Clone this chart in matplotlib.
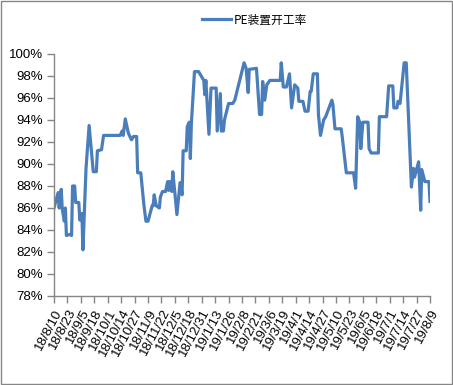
import datetime as dt
import matplotlib
matplotlib.use("Agg")
import matplotlib.pyplot as plt
import matplotlib.dates as mdates
from matplotlib.patches import Rectangle

# 数据
dates = ["2018-08-10", "2018-08-14", "2018-08-15", "2018-08-17", "2018-08-18",
         "2018-08-20", "2018-08-21", "2018-08-22", "2018-08-25", "2018-08-27",
         "2018-08-28", "2018-08-30", "2018-08-31", "2018-09-03", "2018-09-04",
         "2018-09-06", "2018-09-07", "2018-09-10", "2018-09-13", "2018-09-17",
         "2018-09-20", "2018-09-21", "2018-09-25", "2018-09-27", "2018-10-13",
         "2018-10-15", "2018-10-16", "2018-10-18", "2018-10-21", "2018-10-24",
         "2018-10-26", "2018-10-29", "2018-10-30", "2018-11-02", "2018-11-05",
         "2018-11-07", "2018-11-09", "2018-11-13", "2018-11-14", "2018-11-15",
         "2018-11-17", "2018-11-20", "2018-11-21", "2018-11-23", "2018-11-26",
         "2018-11-28", "2018-11-29", "2018-11-30", "2018-12-02", "2018-12-03",
         "2018-12-07", "2018-12-08", "2018-12-10", "2018-12-12", "2018-12-13",
         "2018-12-16", "2018-12-17", "2018-12-19", "2018-12-20", "2018-12-21",
         "2018-12-24", "2018-12-28", "2019-01-02", "2019-01-03", "2019-01-04",
         "2019-01-07", "2019-01-09", "2019-01-14", "2019-01-15", "2019-01-18",
         "2019-01-19", "2019-01-21", "2019-01-22", "2019-01-26", "2019-01-30",
         "2019-02-01", "2019-02-10", "2019-02-12", "2019-02-14", "2019-02-15",
         "2019-02-22", "2019-02-25", "2019-02-27", "2019-02-28", "2019-03-02",
         "2019-03-04", "2019-03-07", "2019-03-17", "2019-03-18", "2019-03-20",
         "2019-03-23", "2019-03-26", "2019-03-28", "2019-03-31", "2019-04-03",
         "2019-04-04", "2019-04-08", "2019-04-10", "2019-04-13", "2019-04-15",
         "2019-04-16", "2019-04-18", "2019-04-22", "2019-04-23", "2019-04-25",
         "2019-04-28", "2019-04-30", "2019-05-06", "2019-05-07", "2019-05-09",
         "2019-05-15", "2019-05-16", "2019-05-20", "2019-05-27", "2019-05-29",
         "2019-05-31", "2019-06-02", "2019-06-03", "2019-06-05", "2019-06-10",
         "2019-06-11", "2019-06-13", "2019-06-20", "2019-06-21", "2019-06-28",
         "2019-06-30", "2019-07-04", "2019-07-05", "2019-07-08", "2019-07-09",
         "2019-07-11", "2019-07-15", "2019-07-17", "2019-07-22", "2019-07-24",
         "2019-07-25", "2019-07-29", "2019-07-31", "2019-08-01", "2019-08-04",
         "2019-08-08", "2019-08-09"]
rates = [86.0, 87.4, 86.0, 87.7, 85.9,
         84.8, 86.0, 83.5, 83.6, 83.5,
         88.0, 88.0, 86.5, 86.5, 84.9,
         85.5, 82.2, 89.6, 93.5, 89.3,
         89.3, 91.2, 91.3, 92.6, 92.6,
         93.0, 92.6, 94.1, 92.8, 92.2,
         92.5, 92.5, 89.2, 89.2, 86.3,
         84.8, 84.8, 86.2, 86.2, 87.2,
         86.2, 86.0, 87.0, 87.5, 87.5,
         88.4, 87.6, 88.4, 87.5, 89.3,
         85.4, 86.4, 88.3, 87.2, 91.2,
         91.2, 93.4, 93.8, 90.5, 93.7,
         98.4, 98.4, 97.6, 96.3, 97.6,
         92.7, 96.9, 96.9, 93.0, 96.4,
         93.0, 93.0, 94.0, 95.5, 95.5,
         95.8, 99.2, 98.7, 96.5, 98.6,
         98.7, 94.5, 94.5, 97.5, 95.8,
         97.2, 97.6, 97.6, 99.2, 97.0,
         97.0, 98.2, 95.1, 97.2, 96.9,
         95.7, 95.7, 94.8, 94.8, 96.6,
         96.6, 98.2, 98.2, 94.5, 92.6,
         94.0, 94.3, 95.8, 95.4, 93.2,
         93.2, 92.5, 89.2, 89.2, 87.8,
         94.3, 93.8, 91.4, 93.8, 93.8,
         91.4, 91.0, 91.0, 94.3, 94.3,
         97.1, 97.1, 95.1, 95.1, 95.7,
         95.5, 99.2, 99.2, 87.9, 89.6,
         88.8, 90.2, 85.8, 89.5, 88.4,
         88.4, 86.6]

tick_labels = ["18/8/10", "18/8/23", "18/9/5", "18/9/18", "18/10/1", "18/10/14",
               "18/10/27", "18/11/9", "18/11/22", "18/12/5", "18/12/18",
               "18/12/31", "19/1/13", "19/1/26", "19/2/8", "19/2/21", "19/3/6",
               "19/3/19", "19/4/1", "19/4/14", "19/4/27", "19/5/10", "19/5/23",
               "19/6/5", "19/6/18", "19/7/1", "19/7/14", "19/7/27", "19/8/9"]
y_ticks = [78, 80, 82, 84, 86, 88, 90, 92, 94, 96, 98, 100]

x = [dt.datetime.strptime(d, "%Y-%m-%d") for d in dates]
start = x[0]
tick_pos = [start + dt.timedelta(days=13 * i) for i in range(len(tick_labels))]

plt.rcParams["font.family"] = ["Liberation Sans", "Noto Sans CJK SC"]
axis_color = "#868686"

fig = plt.figure(figsize=(4.53, 3.85), dpi=100)
ax = fig.add_axes([54 / 453, 1 - 296 / 385, (430 - 54) / 453, (296 - 54) / 385])

line, = ax.plot(x, rates, color="#4a7ebb", linewidth=2.3, label="PE装置开工率")

ax.set_xlim(start, tick_pos[-1])
ax.set_ylim(78, 100)
ax.set_yticks(y_ticks)
ax.set_yticklabels([f"{v}%" for v in y_ticks])
ax.set_xticks(mdates.date2num(tick_pos))
ax.set_xticklabels(tick_labels, rotation=62, ha="right", va="top",
                   rotation_mode="anchor")

for side in ["top", "right"]:
    ax.spines[side].set_visible(False)
for side in ["left", "bottom"]:
    ax.spines[side].set_color(axis_color)
    ax.spines[side].set_linewidth(1)
ax.tick_params(axis="both", colors=axis_color, labelcolor="black",
               labelsize=9.5, length=5, width=1, direction="out")
ax.tick_params(axis="x", pad=3)
ax.tick_params(axis="y", pad=3)

fig.legend(handles=[line], loc="center left", bbox_to_anchor=(196 / 453, 1 - 20 / 385),
           frameon=False, borderpad=0, handlelength=2.45, handletextpad=0.25,
           prop={"family": ["Noto Sans CJK SC"], "size": 8.5})

fig.patches.append(Rectangle((0.002, 0.003), 0.995, 0.994, transform=fig.transFigure,
                             fill=False, edgecolor=axis_color, linewidth=1))

fig.savefig("out.png", dpi=100)
